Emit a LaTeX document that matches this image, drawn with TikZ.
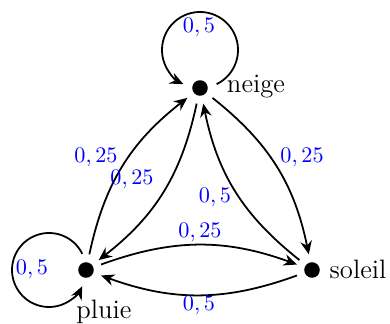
\documentclass[tikz,border=0pt]{standalone}
\usetikzlibrary{arrows.meta}
\begin{document}
\begin{tikzpicture}[x=0.45pt,y=0.45pt,
  statept/.style={circle,inner sep=0pt,minimum size=14pt},
  arr/.style={line width=0.8pt,-{Stealth[length=6pt,width=5.2pt,inset=2pt]}},
  prob/.style={text=blue,inner sep=0pt},
  statename/.style={inner sep=0pt,font=\large}]
\useasboundingbox (0,0) rectangle (390,324);
\node[statept] (neige) at (200,236) {};
\node[statept] (pluie) at (86,54) {};
\node[statept] (soleil) at (312,54) {};
\fill (neige) circle (3.5pt);
\fill (pluie) circle (3.5pt);
\fill (soleil) circle (3.5pt);
\node[statename] (neigeL) at (256,237) {neige};
\node[statename] (soleilL) at (358,55) {soleil};
\node[statename] (pluieL) at (104,12) {pluie};
% loops (circles through the state)
\draw[arr] ([shift={(16.66,3.85)}]neige.center) arc[start angle=-64, end angle=244, radius=17.1pt];
\draw[arr] ([shift={(-3.74,16.22)}]pluie.center) arc[start angle=26, end angle=334, radius=16.65pt];
% edges
\draw[arr] (pluie) to[bend left=20] (neige);
\draw[arr] (neige) to[bend left=20] (pluie);
\draw[arr] (neige) to[bend left=20] (soleil);
\draw[arr] (soleil) to[bend left=20] (neige);
\draw[arr] (pluie) to[bend left=20] (soleil);
\draw[arr] (soleil) to[bend left=20] (pluie);
% labels
\node[prob] (lNN) at (199,296) {$0,5$};
\node[prob] (lPP) at (32,54) {$0,5$};
\node[prob] (lPN) at (96,166) {$0,25$};
\node[prob] (lNP) at (132,144) {$0,25$};
\node[prob] (lPS) at (200,91) {$0,25$};
\node[prob] (lSP) at (199,18) {$0,5$};
\node[prob] (lSN) at (215,126) {$0,5$};
\node[prob] (lNS) at (302,166) {$0,25$};
\end{tikzpicture}
\end{document}
